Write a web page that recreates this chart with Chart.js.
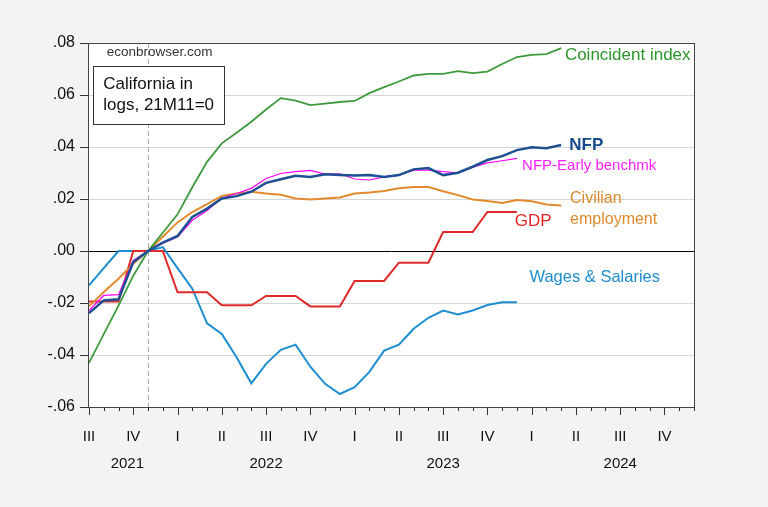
<!DOCTYPE html>
<html>
<head>
<meta charset="utf-8">
<script src="https://cdn.jsdelivr.net/npm/chart.js@4"></script>
<style>
  html, body { margin: 0; padding: 0; background: #f3f3f3; }
  #wrap { width: 768px; height: 507px; position: relative; }
</style>
</head>
<body>
<div id="wrap"><canvas id="chart" width="768" height="507"></canvas></div>
<script>
// monthly, 2021M07 .. 2024M12
const months = [
  '2021M07', '2021M08', '2021M09', '2021M10', '2021M11', '2021M12',
  '2022M01', '2022M02', '2022M03', '2022M04', '2022M05', '2022M06',
  '2022M07', '2022M08', '2022M09', '2022M10', '2022M11', '2022M12',
  '2023M01', '2023M02', '2023M03', '2023M04', '2023M05', '2023M06',
  '2023M07', '2023M08', '2023M09', '2023M10', '2023M11', '2023M12',
  '2024M01', '2024M02', '2024M03', '2024M04', '2024M05', '2024M06',
  '2024M07', '2024M08', '2024M09', '2024M10', '2024M11', '2024M12'
];

// log levels, 21M11 = 0
const coincident = [
  -0.043, -0.032, -0.021, -0.0095, 0, 0.007, 0.0141, 0.0245, 0.0343, 0.0414, 0.0455, 0.0497,
  0.0544, 0.0588, 0.0578, 0.0561, 0.0567, 0.0573, 0.0577, 0.0607, 0.063, 0.0652, 0.0675, 0.0681,
  0.0681, 0.0692, 0.0684, 0.069, 0.0719, 0.0746, 0.0754, 0.0757, 0.078
];
const nfp = [
  -0.0239, -0.019, -0.0186, -0.0042, 0, 0.0032, 0.0058, 0.0131, 0.0163, 0.0202, 0.0211, 0.0228,
  0.0262, 0.0276, 0.0289, 0.0285, 0.0295, 0.0292, 0.029, 0.0292, 0.0285, 0.0292, 0.0314, 0.0319,
  0.0292, 0.0301, 0.0324, 0.035, 0.0365, 0.0388, 0.0399, 0.0395, 0.0408
];
const nfpEarly = [
  -0.0229, -0.0171, -0.0168, -0.0036, 0, 0.003, 0.0054, 0.0118, 0.0156, 0.0204, 0.0221, 0.0241,
  0.0279, 0.0298, 0.0305, 0.031, 0.0296, 0.0297, 0.0277, 0.0273, 0.0285, 0.0292, 0.0311, 0.0311,
  0.0305, 0.0301, 0.0322, 0.0339, 0.0347, 0.0356
];
const civilian = [
  -0.0213, -0.0158, -0.0107, -0.0049, 0, 0.0055, 0.011, 0.015, 0.018, 0.0212, 0.0221, 0.0228,
  0.0221, 0.0216, 0.0202, 0.0198, 0.0202, 0.0206, 0.0221, 0.0225, 0.0231, 0.0241, 0.0246, 0.0246,
  0.023, 0.0215, 0.0198, 0.0192, 0.0185, 0.0196, 0.0191, 0.0179, 0.0175
];
// quarterly GDP, shown flat over the months of each quarter
const gdp = [
  -0.0194, -0.0194, -0.0194, 0, 0, 0, -0.0159, -0.0159, -0.0159, -0.0209, -0.0209, -0.0209,
  -0.0173, -0.0173, -0.0173, -0.0213, -0.0213, -0.0213, -0.0115, -0.0115, -0.0115, -0.0045, -0.0045, -0.0045,
  0.0073, 0.0073, 0.0073, 0.015, 0.015, 0.015
];
const wages = [
  -0.0132, -0.0066, 0, 0, 0, 0.0015, -0.0066, -0.0145, -0.0278, -0.0319, -0.0409, -0.0509,
  -0.0434, -0.038, -0.036, -0.0445, -0.0511, -0.055, -0.0524, -0.0465, -0.0383, -0.036, -0.0299, -0.0257,
  -0.0229, -0.0244, -0.0229, -0.0208, -0.0197, -0.0197
];

const quarterLabels = ['III', 'IV', 'I', 'II', 'III', 'IV', 'I', 'II', 'III', 'IV', 'I', 'II', 'III', 'IV'];
const yearLabels = ['2021', '2022', '2023', '2024'];
const yearPos = [2.6, 12, 24, 36];
const baseMonth = 4; // 2021M11

const FONT = '"Liberation Sans", Arial, sans-serif';

// series names written next to the lines
const seriesLabels = [
  { text: 'Coincident index', x: 32.25, y: 0.0753, color: '#2a952a', size: 17 },
  { text: 'NFP', x: 32.55, y: 0.0408, color: '#174a8a', size: 17, bold: true },
  { text: 'NFP-Early benchmk', x: 29.35, y: 0.0329, color: '#ff22ff', size: 15 },
  { text: 'Civilian', x: 32.6, y: 0.0203, color: '#dc8a2c', size: 16 },
  { text: 'employment', x: 32.6, y: 0.0122, color: '#dc8a2c', size: 16 },
  { text: 'GDP', x: 28.85, y: 0.0113, color: '#e02424', size: 17 },
  { text: 'Wages & Salaries', x: 29.85, y: -0.0101, color: '#1e8ed0', size: 16.5 }
];

const framePlugin = {
  id: 'frame',
  beforeDraw(chart) {
    const { ctx, chartArea: a } = chart;
    ctx.save();
    ctx.fillStyle = '#ffffff';
    ctx.fillRect(a.left, a.top, a.right - a.left, a.bottom - a.top);
    ctx.restore();
  },
  beforeDatasetsDraw(chart) {
    const { ctx, chartArea: a, scales } = chart;
    const x = Math.round(scales.x.getPixelForValue(baseMonth)) + 0.5;
    ctx.save();
    ctx.strokeStyle = '#a8a8a8';
    ctx.lineWidth = 1;
    ctx.setLineDash([5, 3]);
    ctx.beginPath();
    ctx.moveTo(x, a.top);
    ctx.lineTo(x, a.bottom);
    ctx.stroke();
    ctx.restore();
  },
  afterDraw(chart) {
    const { ctx, chartArea: a, scales } = chart;
    const xs = scales.x, ys = scales.y;
    ctx.save();

    // frame
    ctx.strokeStyle = '#444';
    ctx.lineWidth = 1;
    ctx.strokeRect(Math.round(a.left) - 0.5, Math.round(a.top) + 0.5,
      Math.round(a.right - a.left) + 1, Math.round(a.bottom - a.top));

    // month ticks, longer at quarters
    ctx.strokeStyle = '#333';
    ctx.beginPath();
    for (let i = 0; i < months.length; i++) {
      const px = Math.round(xs.getPixelForValue(i)) + 0.5;
      const len = i % 3 === 0 ? 8 : 4;
      ctx.moveTo(px, a.bottom);
      ctx.lineTo(px, a.bottom + len);
    }
    ctx.stroke();

    ctx.fillStyle = '#111';
    ctx.font = '15px ' + FONT;
    ctx.textAlign = 'center';
    ctx.textBaseline = 'middle';
    quarterLabels.forEach((q, k) => {
      ctx.fillText(q, xs.getPixelForValue(k * 3), a.bottom + 30);
    });
    yearLabels.forEach((yr, k) => {
      ctx.fillText(yr, xs.getPixelForValue(yearPos[k]), a.bottom + 57);
    });

    // box + site name
    const bx1 = xs.getPixelForValue(0.29), bx2 = xs.getPixelForValue(9.14);
    const by1 = ys.getPixelForValue(0.0712), by2 = ys.getPixelForValue(0.0487);
    ctx.fillStyle = '#fff';
    ctx.fillRect(bx1, by1, bx2 - bx1, by2 - by1);
    ctx.strokeStyle = '#333';
    ctx.strokeRect(Math.round(bx1) + 0.5, Math.round(by1) + 0.5, Math.round(bx2 - bx1), Math.round(by2 - by1));
    ctx.fillStyle = '#111';
    ctx.textAlign = 'left';
    ctx.font = '17px ' + FONT;
    ctx.fillText('California in', bx1 + 10, by1 + 18);
    ctx.fillText('logs, 21M11=0', bx1 + 10, by1 + 39);
    ctx.fillStyle = '#333';
    ctx.font = '13.5px ' + FONT;
    ctx.fillText('econbrowser.com', xs.getPixelForValue(1.2), ys.getPixelForValue(0.0766));

    // series names
    seriesLabels.forEach(l => {
      ctx.fillStyle = l.color;
      ctx.font = (l.bold ? 'bold ' : '') + l.size + 'px ' + FONT;
      ctx.fillText(l.text, xs.getPixelForValue(l.x), ys.getPixelForValue(l.y));
    });
    ctx.restore();
  }
};

function line(data, color, width) {
  return {
    data: data,
    borderColor: color,
    borderWidth: width,
    pointRadius: 0,
    tension: 0,
    fill: false
  };
}

function fmtTick(v) {
  const r = Math.round(v * 100) / 100;
  let s = Math.abs(r).toFixed(2).replace(/^0/, '');
  return (r < 0 ? '-' : '') + s;
}

new Chart(document.getElementById('chart'), {
  type: 'line',
  data: {
    labels: months,
    datasets: [
      line(nfp, '#1d4f91', 2.5),
      line(nfpEarly, '#ff00ff', 1.2),
      line(coincident, '#3d9b3d', 1.8),
      line(civilian, '#e3892e', 2),
      line(gdp, '#df2a2a', 2),
      line(wages, '#1e8ed0', 2)
    ]
  },
  options: {
    responsive: false,
    animation: false,
    layout: { padding: { left: 0, right: 74, top: 43, bottom: 100 } },
    plugins: { legend: { display: false }, tooltip: { enabled: false } },
    scales: {
      x: {
        type: 'category',
        offset: false,
        display: false
      },
      y: {
        min: -0.06,
        max: 0.08,
        afterFit(scale) { scale.width = 89; },
        ticks: {
          stepSize: 0.02,
          padding: 5,
          color: '#111',
          font: { family: FONT, size: 16 },
          callback: v => fmtTick(v)
        },
        grid: {
          color: c => Math.abs(c.tick.value) < 1e-9 ? '#000' : '#d6d6d6',
          lineWidth: 1,
          drawTicks: true,
          tickLength: 9,
          tickColor: '#333'
        },
        border: { display: false }
      }
    }
  },
  plugins: [framePlugin]
});
</script>
</body>
</html>
